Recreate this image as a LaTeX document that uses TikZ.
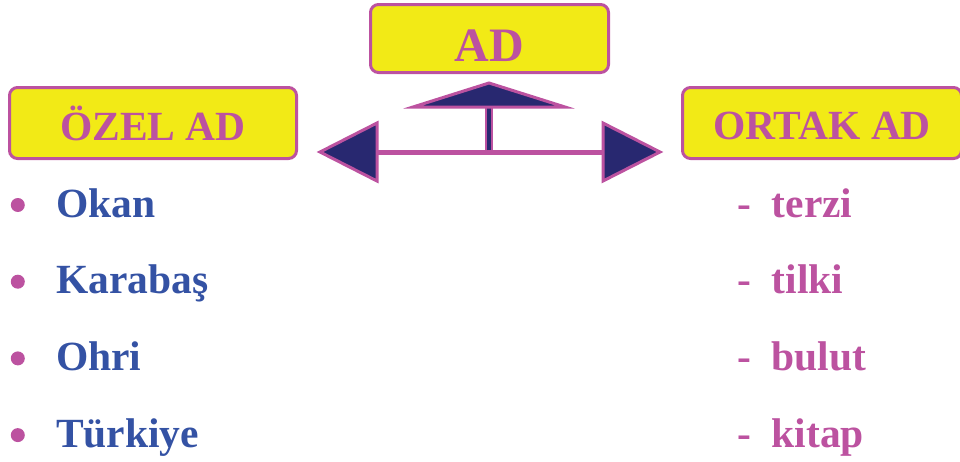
\documentclass[tikz,border=0pt]{standalone}
\usepackage{fontspec}
\setmainfont{Liberation Serif}
\usetikzlibrary{positioning}
\definecolor{boxyellow}{RGB}{242,234,22}
\definecolor{pinkish}{RGB}{188,82,160}
\definecolor{navy}{RGB}{40,40,112}
\definecolor{nameblue}{RGB}{52,82,164}

\begin{document}
\begin{tikzpicture}[x=1pt,y=-1pt]
  \tikzstyle{title}=[draw=pinkish,line width=3pt,fill=boxyellow,rounded corners=8pt,
    text=pinkish,inner sep=0pt,text depth=0pt,minimum height=68pt]
  \tikzstyle{proper}=[text=nameblue,font=\fontsize{41.5}{41.5}\selectfont\bfseries,
    anchor=west,inner sep=0pt,text height=24pt,text depth=0pt]
  \tikzstyle{common}=[proper,text=pinkish]
  \tikzstyle{dot}=[circle,fill=pinkish,minimum size=14pt,inner sep=0pt]
  \tikzstyle{head}=[draw=pinkish,fill=navy,line width=3pt,miter limit=20]
  \tikzstyle{next}=[below=76.7pt of #1.west,anchor=west]
  \useasboundingbox (0,0) rectangle (960,461);

  \node[title,minimum width=238pt,font=\fontsize{48}{48}\selectfont\bfseries,
    text height=46.8pt] (ad) at (489.5,38.5) {AD};
  \node[title,minimum width=287pt,minimum height=71pt,
    font=\fontsize{41.5}{41.5}\selectfont\bfseries,text height=35.5pt] (ozel) at (153,123) {ÖZEL AD};
  \node[title,minimum width=279pt,minimum height=71pt,
    font=\fontsize{41.5}{41.5}\selectfont\bfseries,text height=33.5pt] (ortak) at (822,123) {ORTAK AD};

  % arrows
  \coordinate (hub) at (489,150);
  \coordinate (stemtop) at (489,107);
  \coordinate (uptip) at (489,83);
  \coordinate (lefttip) at (320,152);
  \coordinate (righttip) at (660,152);
  \coordinate (leftbase) at (377,152);
  \coordinate (rightbase) at (603,152);
  \draw[pinkish,line width=5pt] (leftbase) -- (rightbase);
  \draw[pinkish,line width=8pt] (hub) -- (stemtop);
  \draw[navy,line width=3.5pt] (hub) -- (stemtop);
  \draw[head] (lefttip) -- ++(57,-29) -- ++(0,58) -- cycle;
  \draw[head] (righttip) -- ++(-57,-29) -- ++(0,58) -- cycle;
  \draw[head] (uptip) -- ++(-76,24) -- ++(152,0) -- cycle;

  \node[proper] (okan) at (56,205) {Okan};
  \node[proper,next=okan] (karabas) {Karabaş};
  \node[proper,next=karabas] (ohri) {Ohri};
  \node[proper,next=ohri] (turkiye) {Türkiye};
  \node[dot,left=31pt of okan] (dot1) {};
  \node[dot,left=31pt of karabas] (dot2) {};
  \node[dot,left=31pt of ohri] (dot3) {};
  \node[dot,left=31pt of turkiye] (dot4) {};

  \node[common] (terzi) at (737,205) {-~~terzi};
  \node[common,next=terzi] (tilki) {-~~tilki};
  \node[common,next=tilki] (bulut) {-~~bulut};
  \node[common,next=bulut] (kitap) {-~~kitap};
\end{tikzpicture}
\end{document}
